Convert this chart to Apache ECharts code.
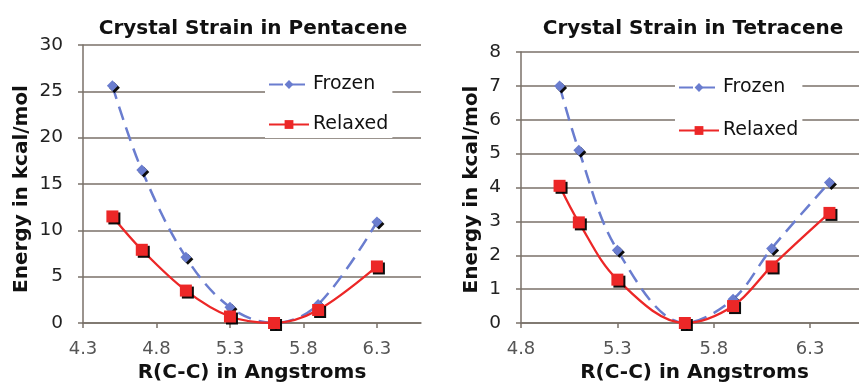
<!DOCTYPE html>
<html>
<head>
<meta charset="utf-8">
<script src="https://cdn.jsdelivr.net/npm/echarts@6/dist/echarts.min.js"></script>
<style>html,body{margin:0;padding:0;background:#fff}#c{width:859px;height:384px}</style>
</head>
<body>
<div id="c"></div>
<script>
// Pentacene (left)
var pentX = [4.5, 4.7, 5.0, 5.3, 5.6, 5.9, 6.3];
var pentFrozen = [25.6, 16.5, 7.1, 1.7, 0, 2.0, 10.9];
var pentRelaxed = [11.5, 7.9, 3.5, 0.7, 0, 1.4, 6.1];
// Tetracene (right)
var tetX = [5.0, 5.1, 5.3, 5.65, 5.9, 6.1, 6.4];
var tetFrozen = [7.0, 5.1, 2.15, 0, 0.7, 2.2, 4.15];
var tetRelaxed = [4.05, 2.97, 1.28, 0, 0.5, 1.67, 3.25];

var titles = ['Crystal Strain in Pentacene', 'Crystal Strain in Tetracene'];
var seriesNames = ['Frozen', 'Relaxed'];

function pairs(xs, ys) { return xs.map(function (x, i) { return [x, ys[i]]; }); }

var FONT = 'DejaVu Sans';
var BLUE = '#6a7dcf';
var RED = '#ec2727';
var GRID = '#7a7169';

function xAx(idx, min, max) {
  return {
    type: 'value', gridIndex: idx, min: min, max: max, interval: 0.5,
    name: 'R(C-C) in Angstroms', nameLocation: 'middle', nameGap: 36,
    nameTextStyle: { fontFamily: FONT, fontWeight: 'bold', fontSize: 20, color: '#111' },
    axisLine: { show: true, onZero: false, lineStyle: { color: GRID, width: 1.5 } },
    axisTick: { show: true, length: 5, lineStyle: { color: GRID, width: 1.5 } },
    splitLine: { show: false },
    axisLabel: { fontFamily: FONT, fontSize: 18, color: '#555', margin: 17, showMaxLabel: false,
      formatter: function (v) { return v.toFixed(1); } }
  };
}
function yAx(idx, max, interval) {
  return {
    type: 'value', gridIndex: idx, min: 0, max: max, interval: interval,
    name: 'Energy in kcal/mol', nameLocation: 'middle', nameGap: idx === 0 ? 51 : 39, nameRotate: 90,
    nameTextStyle: { fontFamily: FONT, fontWeight: 'bold', fontSize: 20, color: '#111',
      padding: idx === 0 ? [0, 10, 0, 0] : [0, 4, 0, 0] },
    axisLine: { show: true, lineStyle: { color: GRID, width: 1.5 } },
    axisTick: { show: true, length: 5, lineStyle: { color: GRID, width: 1.5 } },
    splitLine: { show: true, lineStyle: { color: GRID, width: 1.5 } },
    axisLabel: { fontFamily: FONT, fontSize: 18.5, color: '#222', margin: 20 }
  };
}
var shadow = { shadowColor: 'rgba(0,0,0,0.95)', shadowOffsetX: 2, shadowOffsetY: 2, shadowBlur: 0 };
function frozen(idx, data) {
  return {
    name: seriesNames[0], type: 'line', xAxisIndex: idx, yAxisIndex: idx, data: data,
    smooth: 0.35, symbol: 'diamond', symbolSize: 11,
    lineStyle: { color: BLUE, width: 2.5, type: [14, 8] },
    itemStyle: Object.assign({ color: BLUE }, shadow), z: 3
  };
}
function relaxed(idx, data) {
  return {
    name: seriesNames[1], type: 'line', xAxisIndex: idx, yAxisIndex: idx, data: data,
    smooth: 0.35, symbol: 'rect', symbolSize: 12,
    lineStyle: { color: RED, width: 2.3 },
    itemStyle: Object.assign({ color: RED }, shadow), z: 4
  };
}
function legend(left, top, gap) {
  return {
    data: seriesNames, left: left, top: top, orient: 'vertical', itemGap: gap,
    itemWidth: 40, itemHeight: 11, backgroundColor: '#fff', padding: [4, 4, 4, 3],
    textStyle: { fontFamily: FONT, fontSize: 19, color: '#111', padding: [0, 0, 0, -1] }, selectedMode: false
  };
}

var chart = echarts.init(document.getElementById('c'));
chart.setOption({
  animation: false,
  title: [
    { text: titles[0], left: 248, top: 14, textAlign: 'center',
      textStyle: { fontFamily: FONT, fontWeight: 'bold', fontSize: 20, color: '#111' } },
    { text: titles[1], left: 688, top: 14, textAlign: 'center',
      textStyle: { fontFamily: FONT, fontWeight: 'bold', fontSize: 20, color: '#111' } }
  ],
  grid: [
    { left: 83, top: 45, width: 338, height: 278, outerBoundsMode: 'none', containLabel: false },
    { left: 521, top: 52, width: 347, height: 271, outerBoundsMode: 'none', containLabel: false }
  ],
  legend: [legend(265, 71, 21), legend(675, 74, 24)],
  xAxis: [xAx(0, 4.3, 6.6), xAx(1, 4.8, 6.6)],
  yAxis: [yAx(0, 30, 5), yAx(1, 8, 1)],
  series: [
    frozen(0, pairs(pentX, pentFrozen)),
    relaxed(0, pairs(pentX, pentRelaxed)),
    frozen(1, pairs(tetX, tetFrozen)),
    relaxed(1, pairs(tetX, tetRelaxed))
  ]
});
</script>
</body>
</html>
